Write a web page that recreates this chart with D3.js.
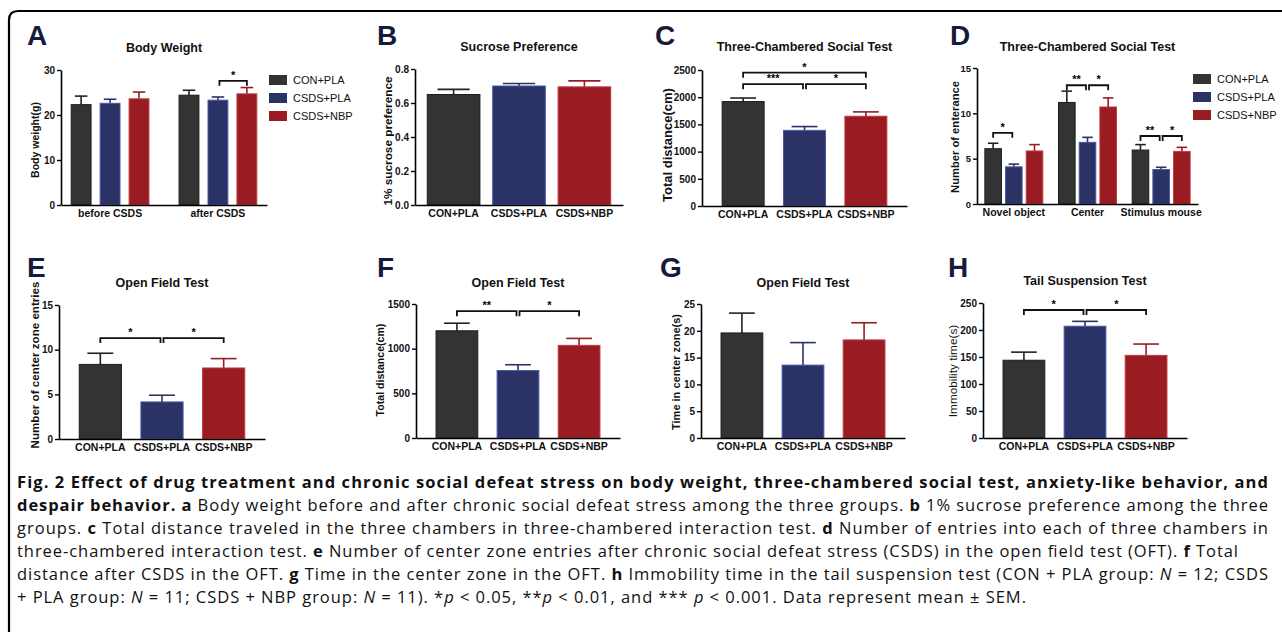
<!DOCTYPE html>
<html lang="en">
<head>
<meta charset="UTF-8">
<script src="https://cdn.jsdelivr.net/npm/d3@7"></script>
<title>Fig. 2</title>
<style>
  body { margin: 0; background: #fff; }
  svg { display: block; }
  text { font-family: "Liberation Sans", Arial, sans-serif; }
  .cap { font-family: "Open Sans", "Liberation Sans", sans-serif; font-size: 16.5px; fill: #111; }
</style>
</head>
<body>
<svg id="fig" width="1282" height="632"></svg>
<script>
// ---- data ----
const groups = ["CON+PLA", "CSDS+PLA", "CSDS+NBP"];
const groupFill = ["#333333", "#2b3366", "#981c21"];
const groupEdge = ["#1c1c1c", "#4a58a4", "#c0393e"];

// A body weight
const weightPhases = ["before CSDS", "after CSDS"];
const weightMean = [[22.3, 22.6, 23.6], [24.4, 23.3, 24.7]];
const weightSem = [[1.9, 0.9, 1.5], [1.1, 0.7, 1.4]];
const weightSig = [{ c: 1, a: 1, b: 2, y: 27.6, label: "*" }];

// B sucrose preference
const sucroseMean = [0.65, 0.70, 0.695];
const sucroseSem = [0.03, 0.015, 0.035];

// C three-chambered total distance
const chamberDistMean = [1920, 1390, 1650];
const chamberDistSem = [65, 70, 80];
const chamberDistSig = [
  { a: 0, b: 2, y: 2450, label: "*" },
  { a: 0, b: 1, y: 2240, label: "***" },
  { a: 1, b: 2, y: 2240, label: "*" }
];

// D entrances per chamber
const chambers = ["Novel object", "Center", "Stimulus mouse"];
const entranceMean = [[6.1, 4.1, 5.85], [11.2, 6.8, 10.7], [5.95, 3.8, 5.8]];
const entranceSem = [[0.6, 0.3, 0.7], [1.25, 0.55, 1.0], [0.6, 0.25, 0.45]];
const entranceSig = [
  { c: 0, a: 0, b: 1, y: 7.85, label: "*" },
  { c: 1, a: 0, b: 1, y: 13.1, label: "**" },
  { c: 1, a: 1, b: 2, y: 13.1, label: "*" },
  { c: 2, a: 0, b: 1, y: 7.5, label: "**" },
  { c: 2, a: 1, b: 2, y: 7.5, label: "*" }
];

// E-G open field
const oftEntriesMean = [8.35, 4.15, 7.95];
const oftEntriesSem = [1.25, 0.75, 1.05];
const oftEntriesSig = [{ a: 0, b: 1, y: 11.3, label: "*" }, { a: 1, b: 2, y: 11.3, label: "*" }];
const oftDistMean = [1200, 755, 1037];
const oftDistSem = [85, 65, 78];
const oftDistSig = [{ a: 0, b: 1, y: 1420, label: "**" }, { a: 1, b: 2, y: 1420, label: "*" }];
const oftTimeMean = [19.6, 13.6, 18.3];
const oftTimeSem = [3.7, 4.2, 3.2];

// H tail suspension
const tailMean = [144, 207, 153];
const tailSem = [15, 9, 21];
const tailSig = [{ a: 0, b: 1, y: 237, label: "*" }, { a: 1, b: 2, y: 237, label: "*" }];

// ---- drawing ----
const svg = d3.select("#fig");

svg.append("path")
  .attr("d", "M9,632 V20 Q9,11 18,11 H1282")
  .attr("fill", "none").attr("stroke", "#000").attr("stroke-width", 2.2);

function panel(o) {
  const g = svg.append("g");
  const y = d3.scaleLinear().domain([0, o.max]).range([o.yBot, o.yTop]);
  const grouped = !!o.cats;
  let xOuter, xInner, barLeft, bw;
  if (grouped) {
    xOuter = d3.scaleBand().domain(o.cats).range([o.x0, o.x1]).paddingInner(o.pi).paddingOuter(o.po);
    xInner = d3.scaleBand().domain(d3.range(3)).range([0, xOuter.bandwidth()]).paddingInner(o.ipi);
    barLeft = (c, k) => xOuter(o.cats[c]) + xInner(k);
    bw = xInner.bandwidth();
  } else {
    xOuter = d3.scaleBand().domain(groups).range([o.x0, o.x1]).paddingInner(o.pi).paddingOuter(o.po);
    barLeft = (c, k) => xOuter(groups[k]);
    bw = xOuter.bandwidth();
  }
  const rows = [];
  (grouped ? o.mean : [o.mean]).forEach((arr, c) => arr.forEach((m, k) => {
    rows.push({ c, k, m, s: (grouped ? o.sem[c][k] : o.sem[k]) });
  }));

  // error bars (one-sided)
  const cap = bw * 0.3;
  const eb = g.append("g").selectAll("g").data(rows).enter().append("g")
    .attr("stroke", d => d.k === 0 ? "#222" : groupFill[d.k])
    .attr("stroke-width", 1.6);
  eb.append("line")
    .attr("x1", d => barLeft(d.c, d.k) + bw / 2).attr("x2", d => barLeft(d.c, d.k) + bw / 2)
    .attr("y1", d => y(d.m)).attr("y2", d => y(d.m + d.s));
  eb.append("line")
    .attr("x1", d => barLeft(d.c, d.k) + bw / 2 - cap).attr("x2", d => barLeft(d.c, d.k) + bw / 2 + cap)
    .attr("y1", d => y(d.m + d.s)).attr("y2", d => y(d.m + d.s));

  g.append("g").selectAll("rect").data(rows).enter().append("rect")
    .attr("x", d => barLeft(d.c, d.k) + 0.5)
    .attr("y", d => y(d.m))
    .attr("width", bw - 1)
    .attr("height", d => y(0) - y(d.m))
    .attr("fill", d => groupFill[d.k])
    .attr("stroke", d => groupEdge[d.k])
    .attr("stroke-width", 1);

  // axes
  const ya = g.append("g").attr("transform", `translate(${o.x0},0)`)
    .call(d3.axisLeft(y).tickValues(o.ticks).tickFormat(o.fmt || (d => d)).tickSize(4).tickSizeOuter(0));
  const xa = g.append("g").attr("transform", `translate(0,${o.yBot})`)
    .call(d3.axisBottom(xOuter).tickSize(0).tickSizeOuter(0).tickPadding(5));
  [ya, xa].forEach(a => {
    a.select(".domain").attr("stroke", "#000").attr("stroke-width", 1.6);
    a.selectAll(".tick line").attr("stroke", "#000").attr("stroke-width", 1.4);
    a.selectAll("text").attr("font-family", "'Liberation Sans', Arial, sans-serif")
      .attr("font-weight", "bold").attr("fill", "#111");
  });
  ya.selectAll("text").attr("font-size", o.tickSize || 10).attr("x", -6);
  xa.selectAll("text").attr("font-size", 10.5);

  // significance brackets
  (o.sig || []).forEach(s => {
    const c = s.c || 0;
    let xa1 = barLeft(c, s.a) + bw / 2, xb1 = barLeft(c, s.b) + bw / 2;
    if (s.a === 1) xa1 += 1.5;
    if (s.b === 1) xb1 -= 1.5;
    const yy = y(s.y);
    g.append("path")
      .attr("d", `M${xa1},${yy + 5} V${yy} H${xb1} V${yy + 5}`)
      .attr("fill", "none").attr("stroke", "#111").attr("stroke-width", 1.8);
    g.append("text").attr("x", (xa1 + xb1) / 2).attr("y", yy - 2)
      .attr("text-anchor", "middle").attr("font-size", 11).attr("font-weight", "bold")
      .text(s.label);
  });

  // title, y label, letter
  g.append("text").attr("x", (o.x0 + o.x1) / 2).attr("y", o.titleY)
    .attr("text-anchor", "middle").attr("font-size", 12.5).attr("font-weight", "bold").attr("fill", "#111")
    .text(o.title);
  g.append("text")
    .attr("transform", `translate(${o.x0 - o.ylabDx},${o.ylabCy}) rotate(-90)`)
    .attr("text-anchor", "middle").attr("dominant-baseline", "central")
    .attr("font-size", o.ylabSize).attr("font-weight", o.ylabWeight || "bold").attr("fill", "#111")
    .text(o.ylab);
  g.append("text").attr("x", o.lx).attr("y", o.ly)
    .attr("font-size", 28).attr("font-weight", "bold").attr("fill", "#161a3c")
    .text(o.letter);

  if (o.legend) {
    const lg = g.append("g").selectAll("g").data(groups).enter().append("g")
      .attr("transform", (d, i) => `translate(${o.legend.x},${o.legend.y + i * 18})`);
    lg.append("rect").attr("x", 0).attr("y", -5).attr("width", 18).attr("height", 10)
      .attr("fill", (d, i) => groupFill[i]);
    lg.append("text").attr("x", 24).attr("y", 0).attr("dominant-baseline", "central")
      .attr("font-size", 11).attr("fill", "#111").text(d => d);
  }
}

panel({ letter: "A", lx: 27, ly: 45, title: "Body Weight", titleY: 52,
  ylab: "Body weight(g)", ylabDx: 26, ylabCy: 140, ylabSize: 10.5,
  x0: 61, x1: 267, yTop: 70, yBot: 205, max: 30, ticks: [0, 10, 20, 30],
  cats: weightPhases, pi: 0.27, po: 0.09, ipi: 0.28,
  mean: weightMean, sem: weightSem, sig: weightSig, legend: { x: 269, y: 80 } });

panel({ letter: "B", lx: 377, ly: 45, title: "Sucrose Preference", titleY: 51,
  ylab: "1% sucrose preference", ylabDx: 27, ylabCy: 141, ylabSize: 11.8,
  x0: 415, x1: 623, yTop: 69, yBot: 205, max: 0.8, ticks: [0, 0.2, 0.4, 0.6, 0.8], fmt: d3.format(".1f"),
  pi: 0.18, po: 0.18, mean: sucroseMean, sem: sucroseSem });

panel({ letter: "C", lx: 655, ly: 45, title: "Three-Chambered Social Test", titleY: 51,
  ylab: "Total distance(cm)", ylabDx: 35, ylabCy: 145, ylabSize: 13,
  x0: 702, x1: 907, yTop: 70, yBot: 206, max: 2500, ticks: d3.range(0, 2501, 500),
  pi: 0.3, po: 0.32, mean: chamberDistMean, sem: chamberDistSem, sig: chamberDistSig });

panel({ letter: "D", lx: 950, ly: 45, title: "Three-Chambered Social Test", titleY: 51,
  ylab: "Number of enterance", ylabDx: 22, ylabCy: 137, ylabSize: 11.2, tickSize: 9.5,
  x0: 977, x1: 1198, yTop: 68, yBot: 204, max: 15, ticks: [0, 5, 10, 15],
  cats: chambers, pi: 0.2, po: 0.1, ipi: 0.15,
  mean: entranceMean, sem: entranceSem, sig: entranceSig, legend: { x: 1193, y: 79 } });

panel({ letter: "E", lx: 27, ly: 277, title: "Open Field Test", titleY: 287,
  ylab: "Number of center zone entries", ylabDx: 25, ylabCy: 365, ylabSize: 11.6,
  x0: 59, x1: 265, yTop: 305, yBot: 439, max: 15, ticks: [0, 5, 10, 15],
  pi: 0.3, po: 0.32, mean: oftEntriesMean, sem: oftEntriesSem, sig: oftEntriesSig });

panel({ letter: "F", lx: 377, ly: 277, title: "Open Field Test", titleY: 287,
  ylab: "Total distance(cm)", ylabDx: 36, ylabCy: 370, ylabSize: 10.6,
  x0: 416, x1: 620, yTop: 304, yBot: 438, max: 1500, ticks: [0, 500, 1000, 1500],
  pi: 0.3, po: 0.32, mean: oftDistMean, sem: oftDistSem, sig: oftDistSig });

panel({ letter: "G", lx: 660, ly: 277, title: "Open Field Test", titleY: 287,
  ylab: "Time in center zone(s)", ylabDx: 25, ylabCy: 372, ylabSize: 11,
  x0: 701, x1: 905, yTop: 304, yBot: 438, max: 25, ticks: [0, 5, 10, 15, 20, 25],
  pi: 0.3, po: 0.32, mean: oftTimeMean, sem: oftTimeSem });

panel({ letter: "H", lx: 948, ly: 277, title: "Tail Suspension Test", titleY: 285,
  ylab: "Immobility time(s)", ylabDx: 30, ylabCy: 371, ylabSize: 11.8, ylabWeight: "normal",
  x0: 983, x1: 1187, yTop: 303, yBot: 438, max: 250, ticks: d3.range(0, 251, 50),
  pi: 0.3, po: 0.32, mean: tailMean, sem: tailSem, sig: tailSig });

// ---- caption ----
const captionLines = [
  [["b", "Fig. 2 Effect of drug treatment and chronic social defeat stress on body weight, three-chambered social test, anxiety-like behavior, and"]],
  [["b", "despair behavior. a"], ["", " Body weight before and after chronic social defeat stress among the three groups. "], ["b", "b"], ["", " 1% sucrose preference among the three"]],
  [["", "groups. "], ["b", "c"], ["", " Total distance traveled in the three chambers in three-chambered interaction test. "], ["b", "d"], ["", " Number of entries into each of three chambers in"]],
  [["", "three-chambered interaction test. "], ["b", "e"], ["", " Number of center zone entries after chronic social defeat stress (CSDS) in the open field test (OFT). "], ["b", "f"], ["", " Total"]],
  [["", "distance after CSDS in the OFT. "], ["b", "g"], ["", " Time in the center zone in the OFT. "], ["b", "h"], ["", " Immobility time in the tail suspension test (CON + PLA group: "], ["i", "N"], ["", " = 12; CSDS"]],
  [["", "+ PLA group: "], ["i", "N"], ["", " = 11; CSDS + NBP group: "], ["i", "N"], ["", " = 11). *"], ["i", "p"], ["", " < 0.05, **"], ["i", "p"], ["", " < 0.01, and *** "], ["i", "p"], ["", " < 0.001. Data represent mean ± SEM."]]
];
const captionEnds = [1268, 1268, 1268, 1238, 1268, 1026];
const capX = 17;

captionLines.forEach((parts, i) => {
  const base = 488 + i * 23;
  const t = svg.append("text").attr("class", "cap").attr("x", 0).attr("y", 0)
    .attr("xml:space", "preserve")
    .attr("transform", `translate(${capX},${base})`);
  parts.forEach(p => {
    t.append("tspan")
      .attr("font-weight", p[0] === "b" ? "bold" : null)
      .attr("font-style", p[0] === "i" ? "italic" : null)
      .text(p[1]);
  });
  const target = captionEnds[i] - capX;
  const natural = t.node().getComputedTextLength();
  if (natural > target) {
    // narrow the glyphs a little to fit the column, like the condensed original
    t.attr("transform", `translate(${capX},${base}) scale(${target / natural},1)`);
  } else {
    t.attr("textLength", target).attr("lengthAdjust", "spacing");
  }
});
</script>
</body>
</html>
